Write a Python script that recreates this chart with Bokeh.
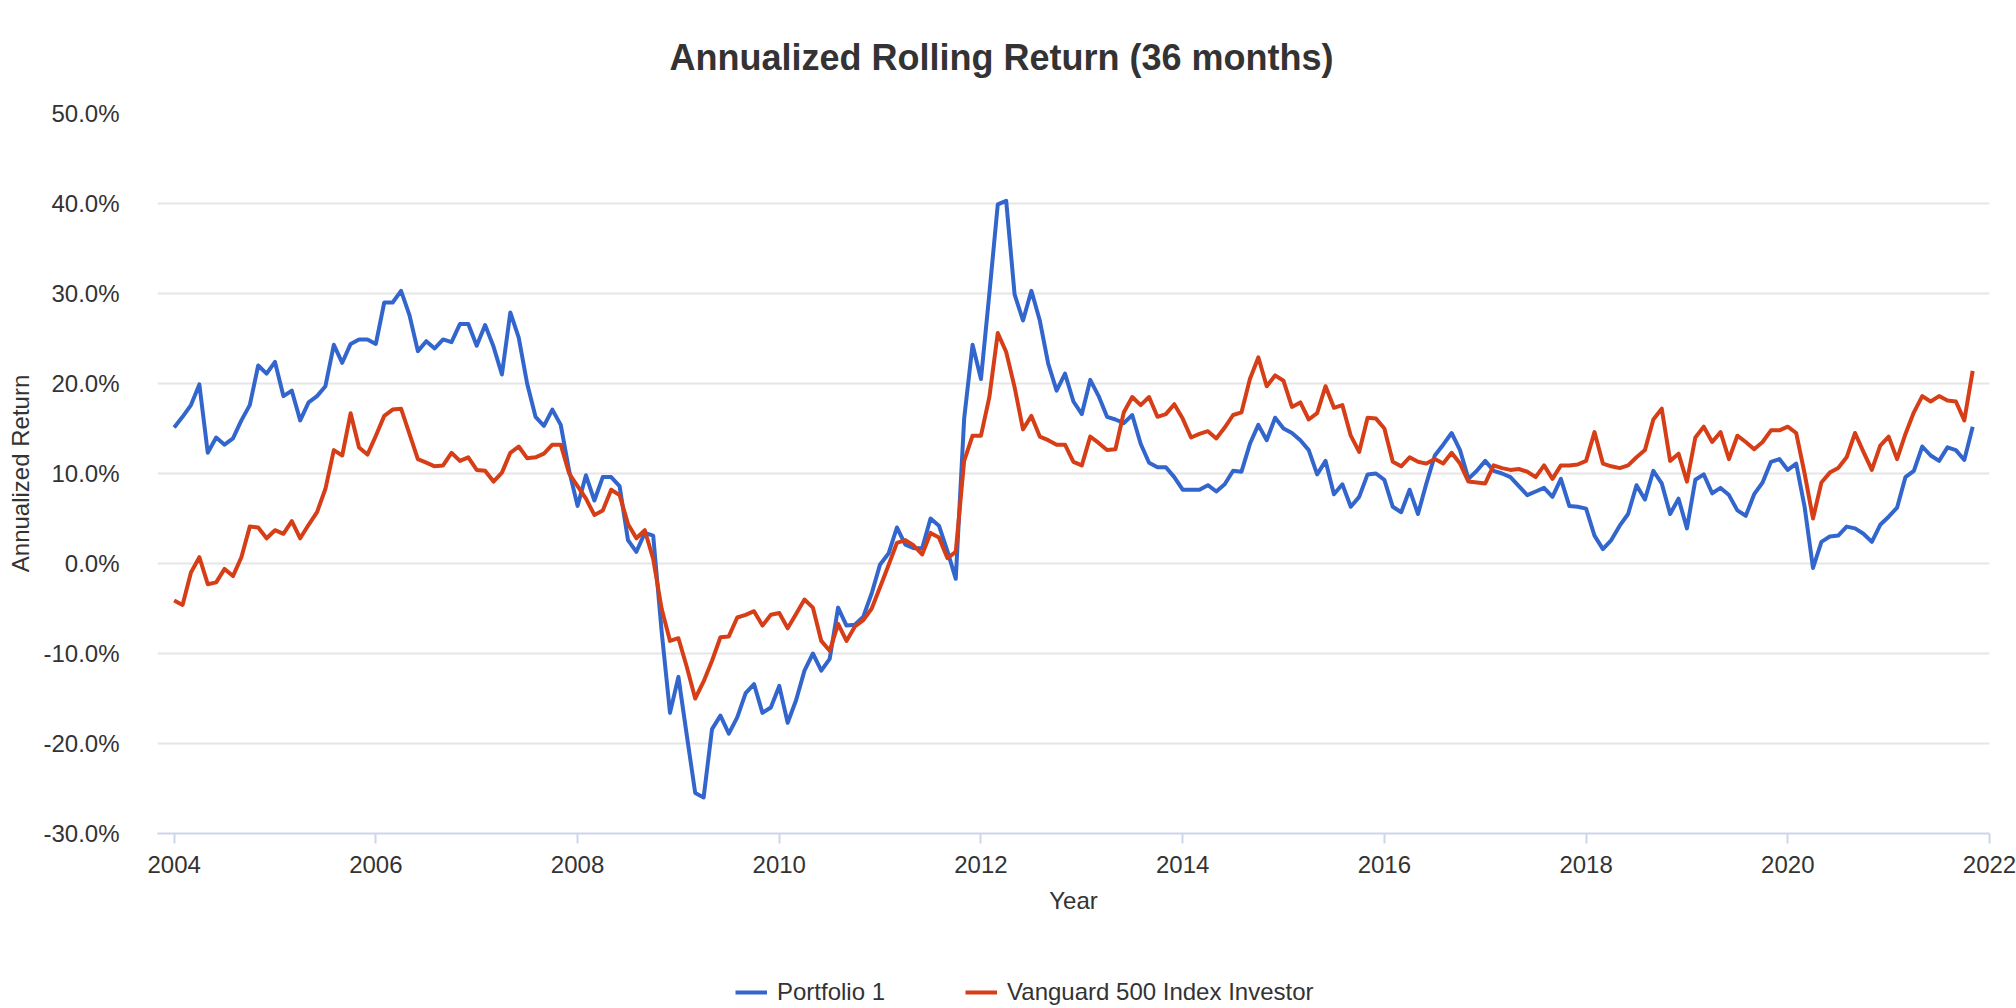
import pandas as pd
from bokeh.plotting import figure
from bokeh.layouts import column
from bokeh.models import (ColumnDataSource, FixedTicker, PrintfTickFormatter, Legend,
                          LegendItem, Range1d)
from bokeh.embed import file_html
from bokeh.resources import INLINE

# ---------------- data (monthly, starting Jan 2004) ----------------
start_month = "2004-01"
portfolio_1 = [
    15.1, 16.3, 17.6, 19.9, 12.3, 14.0, 13.2, 13.9, 15.9, 17.6, 22.0, 21.1, 22.4, 18.6, 19.2, 15.9,
    17.9, 18.6, 19.7, 24.3, 22.3, 24.4, 24.9, 24.9, 24.4, 29.0, 29.0, 30.3,
    27.6, 23.6, 24.7, 23.9, 24.9, 24.6, 26.6, 26.6, 24.2, 26.5, 24.1, 21.0, 27.9, 25.1, 20.0, 16.3,
    15.3, 17.1, 15.4, 10.3, 6.4, 9.8, 7.0, 9.6, 9.6, 8.6, 2.6, 1.3, 3.4, 3.1,
    -7.5, -16.6, -12.6, -19.1, -25.5, -26.0, -18.4, -16.9, -18.9, -17.1, -14.4, -13.4, -16.6, -16.0,
    -13.6, -17.7, -15.2, -11.9, -10.0, -11.9, -10.6, -4.9, -6.9, -6.8, -5.9, -3.3, -0.1, 1.1, 4.0,
    2.1, 1.7, 1.7, 5.0, 4.2, 1.4, -1.7,
    16.1, 24.3, 20.5, 30.0, 39.9, 40.3, 29.9, 27.0, 30.3, 27.0, 22.2, 19.2, 21.1, 18.0, 16.6, 20.4,
    18.6, 16.3, 16.0, 15.6, 16.5, 13.3, 11.2, 10.7, 10.7, 9.6,
    8.2, 8.2, 8.2, 8.7, 8.0, 8.8, 10.3, 10.2, 13.3, 15.4, 13.7, 16.2, 15.0, 14.5, 13.7, 12.6, 9.9,
    11.4, 7.7, 8.8, 6.3, 7.4, 9.9, 10.0, 9.3, 6.3, 5.7, 8.2, 5.5, 8.9,
    12.0, 13.2, 14.5, 12.6, 9.4, 10.3, 11.4, 10.3, 10.0, 9.6, 8.6, 7.6, 8.0, 8.4, 7.4, 9.4, 6.4,
    6.3, 6.1, 3.1, 1.6, 2.6, 4.2, 5.5, 8.7, 7.1, 10.3, 8.9, 5.5, 7.2, 3.9, 9.3, 9.9, 7.8, 8.4, 7.6,
    5.9, 5.3, 7.7, 9.0, 11.3, 11.6, 10.4, 11.1, 6.3, -0.5, 2.4, 3.0, 3.1, 4.1, 3.9, 3.3, 2.4, 4.3,
    5.2, 6.2, 9.6, 10.3, 13.0, 12.0, 11.4, 12.9, 12.6, 11.5, 15.2,
]
vanguard_500 = [
    -4.1, -4.6, -1.0, 0.7, -2.3, -2.1, -0.6, -1.4, 0.7, 4.1, 4.0, 2.8, 3.7, 3.3, 4.7, 2.8, 4.3, 5.7,
    8.3, 12.6, 12.0, 16.7, 12.9, 12.1, 14.2, 16.4, 17.1, 17.2,
    14.4, 11.6, 11.2, 10.8, 10.9, 12.3, 11.4, 11.8, 10.4, 10.3, 9.1, 10.1, 12.3, 13.0, 11.7, 11.8,
    12.2, 13.2, 13.2, 10.0, 8.6, 7.2, 5.4, 5.9, 8.2, 7.6, 4.4, 2.8, 3.7, 0.5,
    -5.0, -8.6, -8.3, -11.5, -15.0, -13.1, -10.8, -8.2, -8.1, -6.0, -5.7, -5.3, -6.9, -5.7, -5.5,
    -7.2, -5.6, -4.0, -4.9, -8.6, -9.7, -6.7, -8.6, -7.0, -6.3, -5.0, -2.6, -0.2, 2.3, 2.6, 2.0,
    1.0, 3.4, 2.9, 0.6, 1.3,
    11.4, 14.2, 14.2, 18.5, 25.6, 23.5, 19.6, 14.9, 16.4, 14.1, 13.7, 13.2, 13.2, 11.3, 10.9, 14.1,
    13.4, 12.6, 12.7, 16.8, 18.5, 17.6, 18.5, 16.3, 16.6, 17.7,
    16.1, 14.0, 14.4, 14.7, 13.9, 15.1, 16.5, 16.8, 20.5, 22.9, 19.7, 20.9, 20.3, 17.4, 17.9, 16.0,
    16.7, 19.7, 17.3, 17.6, 14.2, 12.4, 16.2, 16.1, 15.0, 11.3, 10.8, 11.8, 11.3, 11.1,
    11.6, 11.1, 12.3, 11.1, 9.1, 9.0, 8.9, 10.9, 10.6, 10.4, 10.5, 10.2, 9.6, 10.9, 9.4, 10.9, 10.9,
    11.0, 11.4, 14.6, 11.1, 10.8, 10.6, 10.9, 11.8, 12.6, 16.0, 17.2, 11.4, 12.2, 9.1, 14.0, 15.2,
    13.5, 14.6, 11.6, 14.2, 13.5, 12.7, 13.5, 14.8, 14.8, 15.2, 14.5, 10.0, 5.0, 9.0, 10.1, 10.6,
    11.8, 14.5, 12.4, 10.4, 13.1, 14.1, 11.6, 14.4, 16.8, 18.6, 18.0, 18.6, 18.1, 18.0, 15.9, 21.4,
]
year_ticks = [2004, 2006, 2008, 2010, 2012, 2014, 2016, 2018, 2020, 2022]
pct_ticks = [-30, -20, -10, 0, 10, 20, 30, 40, 50]
series_names = ["Portfolio 1", "Vanguard 500 Index Investor"]
series_colors = ["#3366CC", "#D63E17"]

months = pd.period_range(start_month, periods=len(portfolio_1), freq="M")
decimal_year = (months.year + (months.month - 1) / 12.0).to_numpy()
src = ColumnDataSource(dict(x=decimal_year, p1=portfolio_1, vfiax=vanguard_500))

FONT = "Liberation Sans"
TXT = "#333333"
W = 2016

p = figure(width=W, height=930, output_backend="svg", toolbar_location=None,
           x_range=Range1d(2003.835, 2022.0), y_range=Range1d(-30, 50),
           min_border_left=157, min_border_right=27, min_border_top=113, min_border_bottom=97)
p.outline_line_color = None
p.background_fill_color = "white"
p.border_fill_color = "white"

# title
p.title.text = "Annualized Rolling Return (36 months)"
p.title.align = "left"
p.title.offset = 512
p.title.vertical_align = "middle"
p.title.text_font = FONT
p.title.text_font_size = "36px"
p.title.text_font_style = "bold"
p.title.text_color = TXT
p.title.standoff = 70

p.line("x", "p1", source=src, color=series_colors[0], line_width=4, line_join="round")
p.line("x", "vfiax", source=src, color=series_colors[1], line_width=4, line_join="round")

# grid
p.xgrid.grid_line_color = None
p.ygrid.grid_line_color = "#e6e6e6"
p.ygrid.grid_line_width = 2

# x axis
xa = p.xaxis[0]
xa.ticker = FixedTicker(ticks=year_ticks)
xa.axis_label = "Year"
xa.axis_line_color = "#ccd6eb"
xa.axis_line_width = 2
xa.major_tick_line_color = "#ccd6eb"
xa.major_tick_line_width = 2
xa.major_tick_in = 0
xa.major_tick_out = 10
xa.minor_tick_line_color = None
xa.major_label_standoff = 12
xa.major_label_text_font = FONT
xa.major_label_text_font_size = "24px"
xa.major_label_text_color = TXT
xa.axis_label_text_font = FONT
xa.axis_label_text_font_size = "24px"
xa.axis_label_text_font_style = "normal"
xa.axis_label_text_color = TXT
xa.axis_label_standoff = 11

# y axis
ya = p.yaxis[0]
ya.ticker = FixedTicker(ticks=pct_ticks)
ya.formatter = PrintfTickFormatter(format="%.1f%%")
ya.axis_label = "Annualized Return"
ya.axis_line_color = None
ya.major_tick_line_color = None
ya.minor_tick_line_color = None
ya.major_label_standoff = 32
ya.major_label_text_font = FONT
ya.major_label_text_font_size = "24px"
ya.major_label_text_color = TXT
ya.axis_label_text_font = FONT
ya.axis_label_text_font_size = "24px"
ya.axis_label_text_font_style = "normal"
ya.axis_label_text_color = TXT
ya.axis_label_standoff = 6

# ---------------- legend row (own strip under the chart) ----------------
leg = figure(width=W, height=76, output_backend="svg", toolbar_location=None,
             x_range=Range1d(0, 1), y_range=Range1d(0, 1),
             x_axis_location=None, y_axis_location=None,
             min_border_left=0, min_border_right=0, min_border_top=0, min_border_bottom=0)
leg.outline_line_color = None
leg.xgrid.grid_line_color = None
leg.ygrid.grid_line_color = None
# legend keys only (placed outside the strip's visible range)
k1 = leg.line(x=[5, 6], y=[5, 6], color=series_colors[0], line_width=4)
k2 = leg.line(x=[5, 6], y=[5, 6], color=series_colors[1], line_width=4)
legend = Legend(items=[LegendItem(label=series_names[0], renderers=[k1]),
                       LegendItem(label=series_names[1], renderers=[k2])],
                orientation="horizontal", location=(578, 0),
                border_line_color=None, background_fill_alpha=0,
                padding=0, margin=0, spacing=80,
                glyph_width=32, glyph_height=24, label_standoff=10,
                label_text_font=FONT, label_text_font_size="24px", label_text_color=TXT)
leg.add_layout(legend, "center")

open("out.html", "w").write(file_html(column(p, leg, spacing=0), INLINE))
